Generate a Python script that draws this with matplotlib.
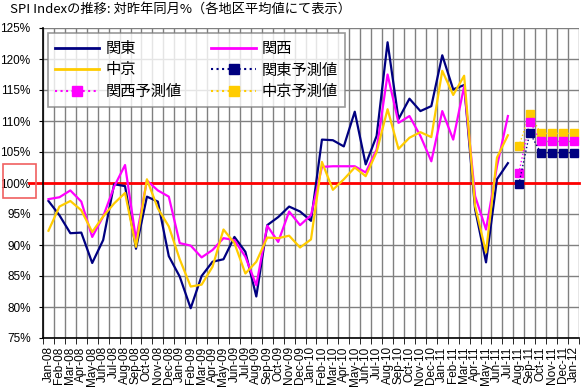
import numpy as np
import matplotlib
matplotlib.use("Agg")
import matplotlib.pyplot as plt
from matplotlib.lines import Line2D
from matplotlib.patches import Rectangle
import matplotlib.transforms as mtransforms

plt.rcParams['font.family'] = ['Noto Sans CJK JP', 'DejaVu Sans']

# 月ラベル (Jan-08 ～ Jan-12)
months = ["Jan-08", "Feb-08", "Mar-08", "Apr-08", "May-08", "Jun-08", "Jul-08", "Aug-08",
          "Sep-08", "Oct-08", "Nov-08", "Dec-08", "Jan-09", "Feb-09", "Mar-09", "Apr-09",
          "May-09", "Jun-09", "Jul-09", "Aug-09", "Sep-09", "Oct-09", "Nov-09", "Dec-09",
          "Jan-10", "Feb-10", "Mar-10", "Apr-10", "May-10", "Jun-10", "Jul-10", "Aug-10",
          "Sep-10", "Oct-10", "Nov-10", "Dec-10", "Jan-11", "Feb-11", "Mar-11", "Apr-11",
          "May-11", "Jun-11", "Jul-11", "Aug-11", "Sep-11", "Oct-11", "Nov-11", "Dec-11",
          "Jan-12"]

# 実績値 (Jan-08 ～ Jul-11), %
kanto = [97.1, 94.8, 91.9, 92.0, 87.1, 90.8, 99.8, 99.5, 89.4, 97.8, 97.0, 88.2,
         84.9, 79.8, 85.0, 87.3, 87.7, 91.3, 88.9, 81.7, 93.2, 94.5, 96.2, 95.4,
         93.9, 107.0, 106.9, 105.9, 111.5, 103.0, 107.6, 122.7, 110.3, 113.6, 111.6, 112.4,
         120.6, 115.1, 115.8, 95.8, 87.2, 100.6, 103.2]
kansai = [97.4, 97.7, 98.8, 97.0, 91.3, 94.6, 99.4, 102.9, 90.9, 100.4, 98.8, 97.8,
          90.3, 89.9, 88.0, 89.2, 91.1, 90.8, 88.1, 83.5, 93.1, 90.5, 95.4, 93.2,
          94.8, 102.6, 102.7, 102.7, 102.7, 101.7, 105.4, 117.5, 109.7, 110.8, 107.6, 103.5,
          111.6, 107.0, 115.6, 97.9, 92.5, 102.7, 110.8]
chukyo = [92.3, 96.2, 97.1, 95.6, 92.1, 94.6, 96.7, 98.4, 89.7, 100.6, 95.9, 93.0,
          87.7, 83.3, 83.6, 86.5, 92.5, 90.3, 85.4, 87.3, 91.2, 91.1, 91.5, 89.6,
          90.9, 103.4, 98.9, 100.6, 102.5, 101.1, 105.0, 111.9, 105.5, 107.3, 108.2, 107.4,
          118.1, 114.2, 117.3, 96.3, 88.8, 104.1, 107.7]

# 予測値 (Aug-11 ～ Jan-12)
kanto_f = [99.8, 108.1, 104.9, 104.9, 104.9, 104.9]
kansai_f = [101.6, 109.9, 106.7, 106.7, 106.7, 106.7]
chukyo_f = [105.9, 111.2, 108.0, 108.0, 108.0, 108.0]

C_KANTO = "#000080"
C_KANSAI = "#FF00FF"
C_CHUKYO = "#FFCC00"

x = np.arange(len(months))
x_act = x[:len(kanto)]
x_fc = x[len(kanto):]

fig = plt.figure(figsize=(5.88, 3.92), dpi=100)
ax = fig.add_axes([43/588, 1 - 338/392, 536/588, 310/392])

ax.set_xlim(-0.5, len(months) - 0.5)
ax.set_ylim(75, 125)

# グリッド
ax.set_yticks(np.arange(75, 126, 5))
ax.set_yticklabels([f"{v}%" for v in range(75, 126, 5)], fontsize=8.5)
ax.set_xticks(x)
ax.set_xticklabels(months, rotation=90, fontsize=8.5, family=['Liberation Sans', 'DejaVu Sans'])
ax.set_xticks(np.arange(-0.5, len(months), 1), minor=True)
ax.grid(True, axis='y', which='major', color='#808080', lw=1)
ax.grid(True, axis='x', which='minor', color='#808080', lw=1)
ax.set_axisbelow(True)
ax.tick_params(axis='x', which='major', length=0, pad=6)
ax.tick_params(axis='x', which='minor', length=4, direction='out', color='black')
ax.tick_params(axis='y', length=3, pad=6)
for lab in ax.get_yticklabels():
    lab.set_family(['Liberation Sans', 'DejaVu Sans'])
for s in ['top', 'right']:
    ax.spines[s].set_visible(False)
for s in ['left', 'bottom']:
    ax.spines[s].set_color('black')
    ax.spines[s].set_linewidth(1.2)

# 100% 基準線
trans = mtransforms.blended_transform_factory(ax.transAxes, ax.transData)
ax.plot([-14/536, 1], [100, 100], color='red', lw=2, transform=trans, clip_on=False, zorder=2)

# 実績
ax.plot(x_act, kanto, color=C_KANTO, lw=1.6, zorder=3)
ax.plot(x_act, kansai, color=C_KANSAI, lw=1.6, zorder=3)
ax.plot(x_act, chukyo, color=C_CHUKYO, lw=1.6, zorder=3)

# 予測
ax.plot(x_fc, chukyo_f, color=C_CHUKYO, lw=1, ls=':', marker='s', ms=6, zorder=4)
ax.plot(x_fc, kansai_f, color=C_KANSAI, lw=1, ls=':', marker='s', ms=6, zorder=4)
ax.plot(x_fc, kanto_f, color=C_KANTO, lw=1, ls=':', marker='s', ms=6, zorder=4)

# 凡例
handles = [
    Line2D([], [], color=C_KANTO, lw=2),
    Line2D([], [], color=C_CHUKYO, lw=2),
    Line2D([], [], color=C_KANSAI, lw=1.5, ls=':', marker='s', ms=7),
    Line2D([], [], color=C_KANSAI, lw=2),
    Line2D([], [], color=C_KANTO, lw=1.5, ls=':', marker='s', ms=7),
    Line2D([], [], color=C_CHUKYO, lw=1.5, ls=':', marker='s', ms=7),
]
labels = ["関東", "中京", "関西予測値", "関西", "関東予測値", "中京予測値"]
leg = ax.legend(handles, labels, ncol=2, loc='upper left',
                bbox_to_anchor=(5/536, 1 - 5/310, 297/536, 0), mode='expand',
                fontsize=11, frameon=True, fancybox=False, handlelength=2.9,
                handletextpad=0.4, labelspacing=0.3, borderpad=0.45,
                columnspacing=2.0, borderaxespad=0)
leg.get_frame().set_edgecolor('#808080')
leg.get_frame().set_linewidth(1.2)
leg.set_zorder(5)

# タイトル
fig.text(10/588, 1 - 3/392, "SPI Indexの推移: 対昨年同月%（各地区平均値にて表示）",
         fontsize=9.5, ha='left', va='top')

# 100% ラベルの枠
fig.add_artist(Rectangle((3/588, 1 - 198/392), 33/588, 34/392,
                         transform=fig.transFigure, fill=False,
                         edgecolor='#F06060', lw=1.2))

fig.savefig("out.png", dpi=100)
